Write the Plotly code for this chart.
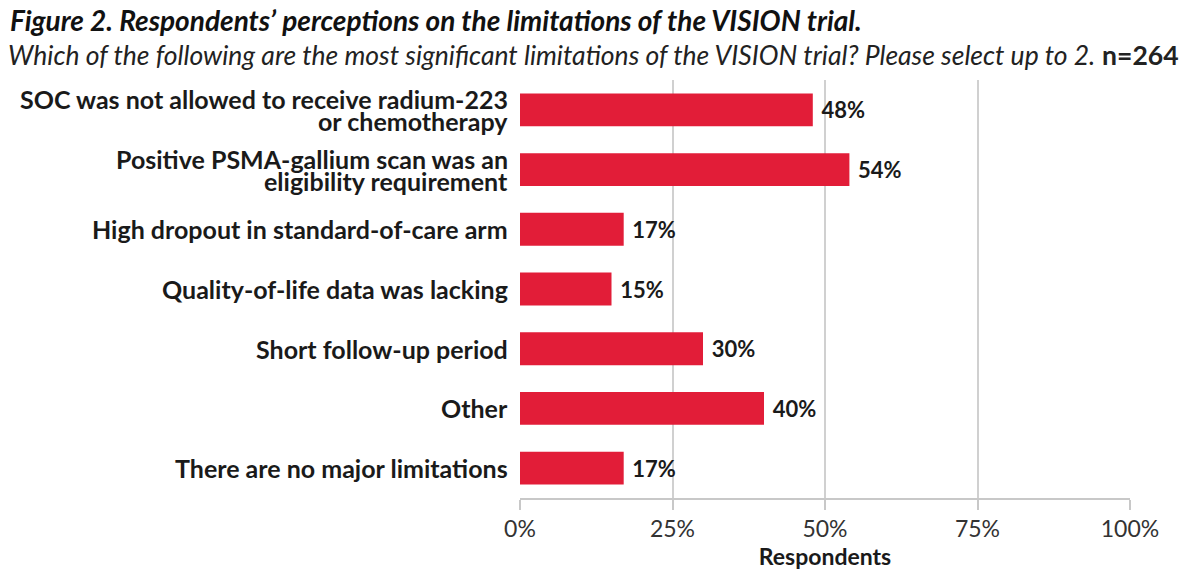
import plotly.graph_objects as go

categories = [
    "SOC was not allowed to receive radium-223<br>or chemotherapy",
    "Positive PSMA-gallium scan was an<br>eligibility requirement",
    "High dropout in standard-of-care arm",
    "Quality-of-life data was lacking",
    "Short follow-up period",
    "Other",
    "There are no major limitations",
]
values = [48, 54, 17, 15, 30, 40, 17]
tick_vals = [0, 25, 50, 75, 100]
tick_text = ["0%", "25%", "50%", "75%", "100%"]

FONT = "Lato, 'Open Sans', sans-serif"
LINE_GAP = 22

fig = go.Figure(go.Bar(
    x=values,
    y=categories,
    orientation="h",
    marker=dict(color="#E21D38", line=dict(width=0)),
    width=0.55,
    text=[f" <b>{v}%</b>" for v in values],
    textposition="outside",
    textfont=dict(size=22, color="#1a1a1a", family=FONT),
    cliponaxis=False,
))

plot_h = 587 - 80 - 89
plot_w = 1200 - 520 - 70
def px(x):
    return (x - 520) / plot_w
def py(y):
    return (587 - 89 - y) / plot_h

annotations = [
    dict(text="<b><i>Figure 2. Respondents’ perceptions on the limitations of the VISION trial.</i></b>",
         xref="paper", yref="paper", x=px(8), y=py(20), xanchor="left", yanchor="middle",
         showarrow=False, font=dict(size=28, color="#111111", family=FONT)),
    dict(text="<i>Which of the following are the most significant limitations of the VISION trial? Please select up to 2.</i> <b>n=264</b>",
         xref="paper", yref="paper", x=px(6), y=py(55), xanchor="left", yanchor="middle",
         showarrow=False, font=dict(size=26.5, color="#222222", family=FONT)),
]
for c in categories:
    lines = c.split("<br>")
    n = len(lines)
    for i, ln in enumerate(lines):
        annotations.append(dict(
            text=f"<b>{ln}</b>", xref="paper", yref="y", x=0, y=c,
            xanchor="right", yanchor="middle", xshift=-10,
            yshift=((n - 1) / 2 - i) * LINE_GAP,
            showarrow=False, font=dict(size=25, color="#1a1a1a", family=FONT),
        ))

fig.update_layout(
    width=1200, height=587,
    margin=dict(l=520, r=70, t=80, b=89),
    paper_bgcolor="white", plot_bgcolor="white",
    showlegend=False,
    font=dict(family=FONT, color="#1a1a1a"),
    xaxis=dict(
        range=[0, 100], tickvals=tick_vals, ticktext=tick_text,
        showgrid=True, gridcolor="#d0d0d0", gridwidth=1.5,
        showline=True, linecolor="#c8c8c8", linewidth=1.5,
        ticks="outside", ticklen=10, tickcolor="#c8c8c8", tickwidth=1.5,
        tickfont=dict(size=23, color="#333333", family=FONT),
        title=dict(text="<b>Respondents</b>", font=dict(size=23, color="#1a1a1a", family=FONT), standoff=4),
        zeroline=False,
    ),
    yaxis=dict(
        categoryorder="array", categoryarray=categories[::-1],
        showticklabels=False,
        showgrid=False, showline=False, zeroline=False,
        range=[-0.5, 6.5],
    ),
    annotations=annotations,
)

fig.write_html("out.html")
